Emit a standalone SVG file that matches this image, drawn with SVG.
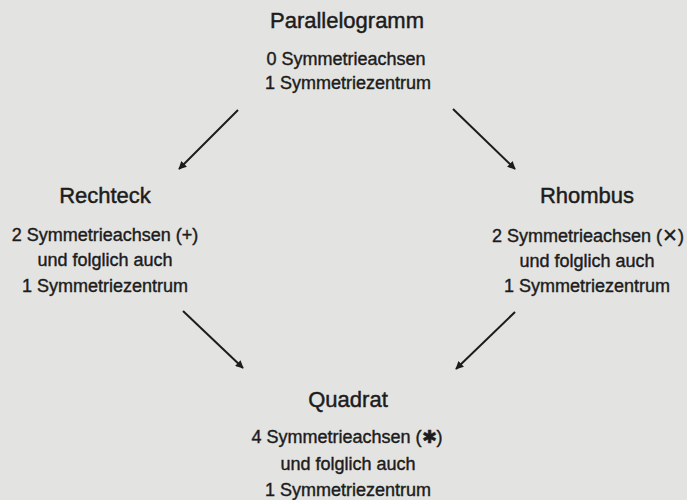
<svg xmlns="http://www.w3.org/2000/svg" width="687" height="500" viewBox="0 0 687 500">
<defs>
<marker id="ah" viewBox="0 0 10 10" refX="9" refY="5" markerWidth="4.5" markerHeight="4" orient="auto" markerUnits="strokeWidth">
<path d="M0,0 L10,5 L0,10 z" fill="#1c1c1c"/>
</marker>
<style>
.t{font-family:"Liberation Sans",Arial,sans-serif;font-size:22px;fill:#1c1c1c;stroke:#1c1c1c;stroke-width:0.45;text-anchor:middle}
.s{font-family:"Liberation Sans",Arial,sans-serif;font-size:18px;fill:#1c1c1c;stroke:#1c1c1c;stroke-width:0.4;text-anchor:middle}
.x{font-family:"DejaVu Sans",sans-serif;font-size:19px;stroke-width:0.2}
.c{stroke:#1c1c1c;stroke-width:2;fill:none;marker-end:url(#ah)}
</style>
</defs>
<rect width="687" height="500" fill="#e3e3e1"/>
<g id="parallelogramm">
<text class="t" x="347" y="28">Parallelogramm</text>
<text class="s" x="346" y="65">0 Symmetrieachsen</text>
<text class="s" x="348" y="89">1 Symmetriezentrum</text>
</g>
<g id="rechteck">
<text class="t" x="105" y="203">Rechteck</text>
<text class="s" x="105" y="241">2 Symmetrieachsen (+)</text>
<text class="s" x="105" y="266">und folglich auch</text>
<text class="s" x="105" y="292">1 Symmetriezentrum</text>
</g>
<g id="rhombus">
<text class="t" x="587" y="203">Rhombus</text>
<text class="s" x="588" y="242">2 Symmetrieachsen (<tspan class="x">✕</tspan>)</text>
<text class="s" x="587" y="267">und folglich auch</text>
<text class="s" x="587" y="292">1 Symmetriezentrum</text>
</g>
<g id="quadrat">
<text class="t" x="348" y="407">Quadrat</text>
<text class="s" x="347" y="443">4 Symmetrieachsen (✱)</text>
<text class="s" x="348" y="470">und folglich auch</text>
<text class="s" x="348" y="496">1 Symmetriezentrum</text>
</g>
<g id="connectors">
<line class="c" x1="238" y1="110" x2="179" y2="169"/>
<line class="c" x1="453" y1="109" x2="515" y2="169"/>
<line class="c" x1="183" y1="311" x2="243" y2="368"/>
<line class="c" x1="515" y1="312" x2="456" y2="369"/>
</g>
</svg>
